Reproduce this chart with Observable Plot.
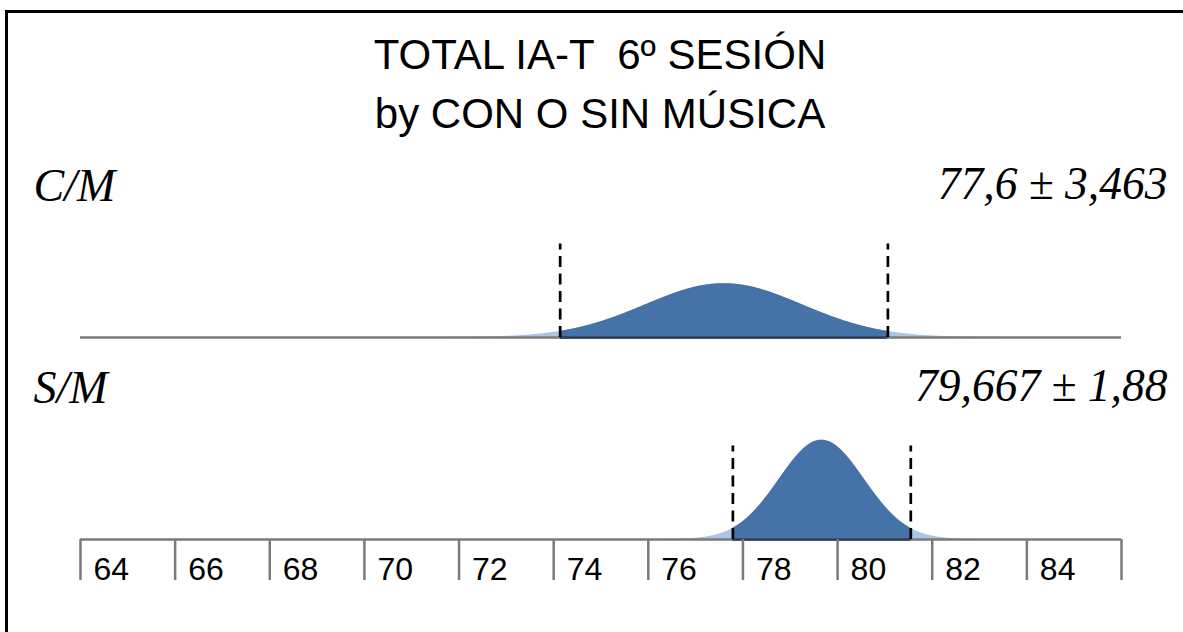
<!DOCTYPE html>
<html><head><meta charset="utf-8">
<script src="https://cdn.jsdelivr.net/npm/d3@7"></script>
<script src="https://cdn.jsdelivr.net/npm/@observablehq/plot@0.6"></script>
<style>
html,body{margin:0;padding:0;background:#fff;overflow:hidden;width:1183px;height:632px}
#frame{position:absolute;left:5px;top:10px;width:2400px;height:1600px;border-left:3px solid #000;border-top:3px solid #000;pointer-events:none}
#title{box-sizing:border-box;height:150px;padding-top:25px;padding-left:17px;width:1183px;text-align:center;font-family:"Liberation Sans",Arial,sans-serif;font-size:42px;line-height:59px;color:#000;white-space:pre}
#chart svg{display:block}
</style></head><body>
<div id="frame"></div>
<div id="title"><div>TOTAL IA-T  6º SESIÓN</div><div>by CON O SIN MÚSICA</div></div>
<div id="chart"></div>
<script>
// ---- data ----
const groups = ["C/M", "S/M"];
const means = [77.6, 79.667];          // centre of each curve and of its markers
const sds = [3.463, 1.88];             // markers drawn at mean ± sd
const curveSpreads = [1.66, 0.90];     // spread of the drawn bell curves (read from their shape)
const statLabels = ["77,6 ± 3,463", "79,667 ± 1,88"];
const tickValues = [64, 66, 68, 70, 72, 74, 76, 78, 80, 82, 84, 86];
const labelValues = [64, 66, 68, 70, 72, 74, 76, 78, 80, 82, 84];
const tickLabels = ["64", "66", "68", "70", "72", "74", "76", "78", "80", "82", "84"];
const xDomain = [64, 86];
const dashTop = 0.417; // height of the mean ± sd markers, in density units

const dens = (x, m, s) => Math.exp(-0.5 * ((x - m) / s) ** 2) / (s * Math.sqrt(2 * Math.PI));
function curve(g, m, s, lo, hi, n) {
  return d3.range(n + 1).map(k => {
    const x = lo + (hi - lo) * k / n;
    return {group: g, x, y: dens(x, m, s)};
  });
}
const tails = groups.flatMap((g, i) =>
  curve(g, means[i], curveSpreads[i],
    Math.max(xDomain[0], means[i] - 4 * curveSpreads[i]),
    Math.min(xDomain[1], means[i] + 4 * curveSpreads[i]), 400));
const cores = groups.flatMap((g, i) =>
  curve(g, means[i], curveSpreads[i], means[i] - sds[i], means[i] + sds[i], 300));
const dashes = groups.flatMap((g, i) => [
  {group: g, x: means[i] - sds[i]},
  {group: g, x: means[i] + sds[i]}
]);
const coreBases = groups.map((g, i) => ({group: g, x1: means[i] - sds[i], x2: means[i] + sds[i]}));
const labelRows = groups.map((g, i) => ({group: g, name: g, stat: statLabels[i]}));
const bottomGroup = groups[groups.length - 1];
const axisLabels = labelValues.map((v, i) => ({group: bottomGroup, x: v, label: tickLabels[i]}));

const chart = Plot.plot({
  width: 1183,
  height: 482,
  marginLeft: 80,
  marginRight: 62,
  marginTop: 10,
  marginBottom: 92.5,
  style: {color: "#000", background: "transparent", fontFamily: "Liberation Sans, Arial, sans-serif"},
  x: {domain: xDomain, axis: null},
  y: {domain: [0, 0.79], axis: null},
  fy: {domain: groups, paddingInner: 0.1238, paddingOuter: 0, axis: null},
  marks: [
    Plot.areaY(tails, {x: "x", y: "y", fy: "group", fill: "#abc5e5"}),
    Plot.areaY(cores, {x: "x", y: "y", fy: "group", fill: "#4572a7"}),
    Plot.ruleY([0], {stroke: "#7a7a7a", strokeWidth: 2.5}),
    Plot.ruleY(coreBases, {y: 0, x1: "x1", x2: "x2", fy: "group", stroke: "#2b3f5c", strokeWidth: 2.5}),
    Plot.ruleX(dashes, {x: "x", y1: 0, y2: dashTop, fy: "group", stroke: "#000", strokeWidth: 2.7, strokeDasharray: "11,6.5"}),
    // tick lines (no labels)
    Plot.axisX(tickValues, {
      anchor: "bottom",
      label: null,
      tickSize: 41,
      tickFormat: () => "",
      stroke: "#7a7a7a",
      strokeWidth: 2.5
    }),
    // tick labels, set to the right of each tick line
    Plot.text(axisLabels, {
      x: "x", fy: "group", text: "label",
      frameAnchor: "bottom", lineAnchor: "top", textAnchor: "start",
      dx: 13, dy: 18, fontSize: 32,
      fontFamily: "Liberation Sans, Arial, sans-serif", fill: "#000"
    }),
    Plot.text(labelRows, {
      fy: "group", text: "name", frameAnchor: "top-left", textAnchor: "start", lineAnchor: "bottom",
      dx: -47, dy: 40, fontSize: 46, fontStyle: "italic", fontFamily: "Liberation Serif, Times New Roman, serif", fill: "#000"
    }),
    Plot.text(labelRows, {
      fy: "group", text: "stat", frameAnchor: "top-right", textAnchor: "end", lineAnchor: "bottom",
      dx: 46, dy: 38, fontSize: 45.5, fontStyle: "italic", fontFamily: "Liberation Serif, Times New Roman, serif", fill: "#000"
    })
  ]
});
document.getElementById("chart").appendChild(chart);
</script>
</body></html>
